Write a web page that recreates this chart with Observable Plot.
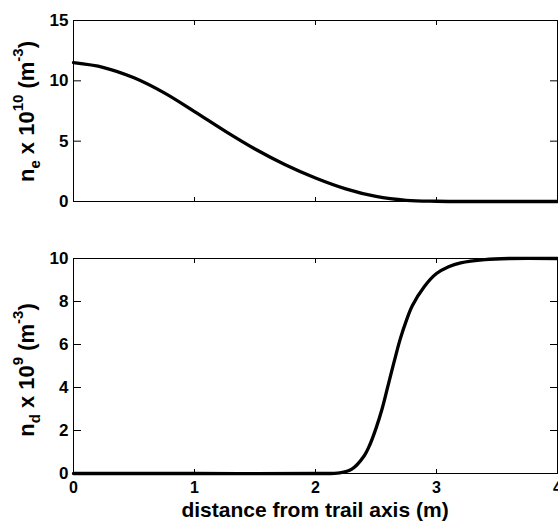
<!DOCTYPE html>
<html>
<head>
<meta charset="utf-8">
<script src="https://cdn.jsdelivr.net/npm/d3@7"></script>
<script src="https://cdn.jsdelivr.net/npm/@observablehq/plot@0.6"></script>
<style>
  html, body { margin: 0; padding: 0; background: #fff; }
  #chart { width: 558px; }
  #chart svg { display: block; }
</style>
</head>
<body>
<div id="chart"></div>
<script>
// Top panel: electron density
const xNe = [0, 0.25, 0.5, 0.75, 1.0, 1.25, 1.5, 1.75, 2.0, 2.25, 2.5, 2.75, 3.0, 3.5, 4.0];
const ne  = [11.5, 11.1, 10.25, 9.0, 7.45, 5.85, 4.35, 3.05, 1.95, 1.05, 0.42, 0.1, 0.02, 0, 0];
// Bottom panel: dust density
const xNd = [0, 1, 2.0, 2.2, 2.3, 2.4, 2.45, 2.5, 2.55, 2.6, 2.65, 2.7, 2.75, 2.8, 2.9, 3.0, 3.1, 3.2, 3.4, 3.6, 4.0];
const nd  = [0, 0, 0, 0.03, 0.2, 0.8, 1.35, 2.1, 3.0, 4.1, 5.2, 6.25, 7.1, 7.8, 8.7, 9.3, 9.62, 9.8, 9.95, 10, 10];
const xTicks = [0, 1, 2, 3, 4];
const neTicks = [0, 5, 10, 15];
const ndTicks = [0, 2, 4, 6, 8, 10];
const xLabel = "distance from trail axis (m)";

const FONT = "Liberation Sans, Arial, sans-serif";
const neData = xNe.map((x, i) => ({x, y: ne[i]}));
const ndData = xNd.map((x, i) => ({x, y: nd[i]}));

function panel({data, yDomain, yTicks, height, marginTop, marginBottom, showX}) {
  return Plot.plot({
    width: 558,
    height,
    marginLeft: 73,
    marginRight: 1,
    marginTop,
    marginBottom,
    style: {fontFamily: FONT, fontSize: "17px", fontWeight: "bold", color: "#000", background: "#fff"},
    x: {domain: [0, 4]},
    y: {domain: yDomain},
    marks: [
      Plot.axisY({anchor: "left", ticks: yTicks, tickSize: -8, tickPadding: 13, label: null, tickFormat: d => String(d)}),
      Plot.axisY({anchor: "right", ticks: yTicks, tickSize: -8, tickFormat: () => "", label: null}),
      Plot.axisX({anchor: "bottom", ticks: xTicks, tickSize: -4, tickPadding: 12, label: null, fontSize: 16,
        tickFormat: showX ? (d => String(d)) : (() => "")}),
      Plot.axisX({anchor: "top", ticks: xTicks, tickSize: -4, tickFormat: () => "", label: null}),
      Plot.frame({stroke: "#000", strokeWidth: 1}),
      Plot.line(data, {x: "x", y: "y", stroke: "#000", strokeWidth: 3.3, curve: "catmull-rom"})
    ]
  });
}

function addYLabel(svg, cy, sub, sup) {
  const t = d3.select(svg).append("text")
    .attr("transform", `translate(34,${cy}) rotate(-90)`)
    .attr("text-anchor", "middle")
    .attr("font-family", FONT)
    .attr("font-size", 22)
    .attr("font-weight", "bold")
    .attr("fill", "#000");
  t.append("tspan").text("n");
  t.append("tspan").attr("font-size", 15).attr("dy", 6).text(sub);
  t.append("tspan").attr("dy", -6).text(" x 10");
  t.append("tspan").attr("font-size", 15).attr("dy", -11).text(sup);
  t.append("tspan").attr("dy", 11).text(" (m");
  t.append("tspan").attr("font-size", 15).attr("dy", -11).text("-3");
  t.append("tspan").attr("dy", 11).text(")");
}

const topPanel = panel({data: neData, yDomain: [0, 15], yTicks: neTicks, height: 215, marginTop: 20, marginBottom: 14, showX: false});
const bottomPanel = panel({data: ndData, yDomain: [0, 10], yTicks: ndTicks, height: 307, marginTop: 43, marginBottom: 49, showX: true});

addYLabel(topPanel, 111.5, "e", "10");
addYLabel(bottomPanel, 155, "d", "9");

d3.select(bottomPanel).append("text")
  .attr("x", 315).attr("y", 302)
  .attr("text-anchor", "middle")
  .attr("font-family", FONT)
  .attr("font-size", 21)
  .attr("font-weight", "bold")
  .attr("fill", "#000")
  .text(xLabel);

document.getElementById("chart").append(topPanel, bottomPanel);
</script>
</body>
</html>
